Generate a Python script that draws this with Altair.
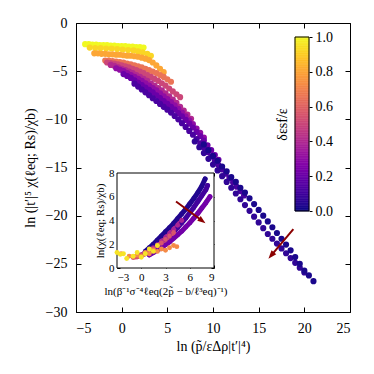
import altair as alt
import pandas as pd

# ---------------- data ----------------
main_delta = [1.0, 0.92, 0.8, 0.65, 0.5, 0.4, 0.3, 0.2, 0.12, 0.06, 0.02]
main_x = [
    [-4.0, -3.6, -3.2, -2.8, -2.4, -2.0, -1.6, -1.2, -0.8, -0.4, 0.0, 0.4, 0.8, 1.2, 1.6, 2.0, 2.4],
    [-3.5, -2.9, -2.3, -1.7, -1.1, -0.5, 0.1, 0.7, 1.3, 1.8, 2.3, 2.8, 3.2],
    [-3.0, -2.6, -2.2, -1.8, -1.4, -1.0, -0.6, -0.2, 0.2, 0.6, 1.0, 1.4, 1.8, 2.2, 2.6, 3.0, 3.4, 3.8, 4.2, 4.6],
    [-1.8, -1.4, -1.0, -0.6, -0.2, 0.2, 0.6, 1.0, 1.4, 1.8, 2.2, 2.6, 3.0, 3.4, 3.8, 4.2, 4.6, 5.0, 5.4],
    [-1.6, -1.2, -0.8, -0.4, 0.0, 0.4, 0.8, 1.2, 1.6, 2.0, 2.4, 2.8, 3.2, 3.6, 4.0, 4.4, 4.8, 5.2, 5.6, 6.0, 6.4],
    [-1.2, -0.8, -0.4, 0.0, 0.4, 0.8, 1.2, 1.6, 2.0, 2.4, 2.8, 3.2, 3.6, 4.0, 4.4, 4.8, 5.2, 5.6, 6.0, 6.4, 6.8, 7.2, 7.6],
    [-0.6, -0.2, 0.2, 0.6, 1.0, 1.4, 1.8, 2.2, 2.6, 3.0, 3.4, 3.8, 4.2, 4.6, 5.0, 5.4, 5.8, 6.2, 6.6, 7.0, 7.4, 7.8, 8.2, 8.6, 9.0],
    [0.2, 0.6, 1.0, 1.4, 1.8, 2.2, 2.6, 3.0, 3.4, 3.8, 4.2, 4.6, 5.0, 5.4, 5.8, 6.2, 6.6, 7.0, 7.4, 7.8, 8.2, 8.6, 9.0, 9.4, 9.8, 10.2, 10.6],
    [1.4, 1.8, 2.2, 2.6, 3.0, 3.4, 3.8, 4.2, 4.6, 5.0, 5.4, 5.8, 6.2, 6.6, 7.0, 7.4, 7.8, 8.2, 8.6, 9.0, 9.4, 9.8, 10.2, 10.6, 11.0, 11.4, 11.8, 12.2, 12.6, 13.0, 13.4],
    [8.0, 8.5, 9.0, 9.5, 10.0, 10.5, 11.0, 11.5, 12.0, 12.5, 13.0, 13.5, 14.0, 14.5, 15.0, 15.5, 16.0, 16.5, 17.0, 17.5, 18.0, 18.5, 19.0, 19.5, 20.0],
    [9.0, 9.5, 10.0, 10.5, 11.0, 11.5, 12.0, 12.5, 13.0, 13.5, 14.0, 14.5, 15.0, 15.5, 16.0, 16.5, 17.0, 17.5, 18.0, 18.5, 19.0, 19.5, 20.0, 20.5, 21.0],
]
main_y = [
    [-2.2, -2.2, -2.25, -2.25, -2.3, -2.3, -2.3, -2.35, -2.35, -2.4, -2.4, -2.4, -2.45, -2.45, -2.5, -2.5, -2.55],
    [-2.55, -2.6, -2.6, -2.65, -2.65, -2.7, -2.75, -2.8, -2.85, -2.95, -3.05, -3.2, -3.4],
    [-3.15, -3.15, -3.2, -3.2, -3.25, -3.25, -3.3, -3.3, -3.35, -3.4, -3.4, -3.45, -3.5, -3.6, -3.7, -3.85, -4.1, -4.4, -4.75, -5.1],
    [-3.9, -3.9, -3.95, -4.0, -4.05, -4.1, -4.2, -4.3, -4.4, -4.5, -4.6, -4.75, -4.9, -5.05, -5.2, -5.4, -5.6, -5.85, -6.1],
    [-4.1, -4.15, -4.2, -4.3, -4.4, -4.5, -4.6, -4.75, -4.9, -5.05, -5.2, -5.4, -5.6, -5.8, -6.0, -6.25, -6.5, -6.8, -7.1, -7.4, -7.7],
    [-4.35, -4.45, -4.6, -4.75, -4.9, -5.05, -5.2, -5.4, -5.6, -5.8, -6.0, -6.25, -6.5, -6.75, -7.0, -7.3, -7.6, -7.95, -8.3, -8.7, -9.1, -9.5, -9.95],
    [-4.7, -4.85, -5.0, -5.2, -5.4, -5.6, -5.8, -6.0, -6.25, -6.5, -6.75, -7.0, -7.3, -7.6, -7.9, -8.2, -8.55, -8.9, -9.3, -9.7, -10.1, -10.5, -10.95, -11.4, -11.9],
    [-5.3, -5.5, -5.7, -5.95, -6.2, -6.45, -6.7, -6.95, -7.2, -7.5, -7.8, -8.1, -8.4, -8.7, -9.0, -9.35, -9.7, -10.05, -10.45, -10.85, -11.3, -11.75, -12.2, -12.7, -13.2, -13.7, -14.2],
    [-6.3, -6.6, -6.9, -7.2, -7.5, -7.8, -8.1, -8.4, -8.7, -9.0, -9.3, -9.65, -10.0, -10.4, -10.8, -11.2, -11.6, -12.05, -12.5, -12.95, -13.4, -13.85, -14.3, -14.75, -15.2, -15.65, -16.1, -16.55, -17.0, -17.45, -17.9],
    [-12.3, -12.9, -13.5, -14.1, -14.7, -15.3, -15.9, -16.5, -17.1, -17.7, -18.3, -18.9, -19.5, -20.1, -20.7, -21.3, -21.9, -22.4, -22.9, -23.4, -23.9, -24.4, -24.9, -25.4, -25.9],
    [-12.6, -13.2, -13.8, -14.3, -14.9, -15.4, -16.0, -16.5, -17.1, -17.6, -18.2, -18.8, -19.4, -20.0, -20.6, -21.2, -21.8, -22.4, -23.0, -23.6, -24.3, -25.0, -25.7, -26.2, -26.8],
]

inset_delta = [0.03, 0.1, 0.22, 0.38, 0.55, 0.72, 0.95]
inset_is_line = [True, True, True, True, True, False, False]
inset_x = [
    [0.5, 1.0, 1.5, 2.0, 2.5, 3.0, 3.5, 4.0, 4.5, 5.0, 5.5, 6.0, 6.5, 7.0, 7.5, 7.9],
    [1.0, 1.5, 2.0, 2.5, 3.0, 3.5, 4.0, 4.5, 5.0, 5.5, 6.0, 6.5, 7.0, 7.5, 8.0, 8.2],
    [1.0, 1.5, 2.0, 2.5, 3.0, 3.5, 4.0, 4.5, 5.0, 5.5, 6.0, 6.5, 7.0, 7.5, 8.0, 8.5],
    [-0.5, 0.0, 0.5, 1.0, 1.5, 2.0, 2.5, 3.0, 3.5, 4.0, 4.5, 5.0],
    [-1.0, -0.5, 0.0, 0.5, 1.0, 1.5, 2.0, 2.5, 3.0, 3.5, 4.0],
    [-2.5, -1.5, -1.0, -0.5, 0.0, 0.5, 1.0, 1.5, 2.0, 2.5, 3.0, 3.5, 4.0, 4.4],
    [-3.0, -2.6, -2.2, -1.8, -1.0, -0.5, 0.0, 0.5, 1.0, 1.5, 2.0],
]
inset_y = [
    [1.4, 1.7, 2.0, 2.35, 2.7, 3.05, 3.4, 3.75, 4.15, 4.55, 4.95, 5.4, 5.85, 6.35, 6.9, 7.5],
    [1.3, 1.55, 1.8, 2.1, 2.4, 2.7, 3.05, 3.4, 3.8, 4.2, 4.65, 5.1, 5.6, 6.1, 6.6, 6.95],
    [1.1, 1.3, 1.5, 1.7, 1.95, 2.2, 2.5, 2.8, 3.1, 3.45, 3.8, 4.2, 4.6, 5.05, 5.5, 6.0],
    [1.0, 1.1, 1.25, 1.45, 1.7, 1.95, 2.25, 2.55, 2.9, 3.25, 3.6, 4.0],
    [0.9, 0.95, 1.05, 1.2, 1.4, 1.6, 1.85, 2.1, 2.4, 2.7, 3.0],
    [1.2, 1.0, 0.95, 1.1, 1.0, 1.3, 1.2, 1.5, 1.4, 1.6, 1.5, 1.7, 1.9, 1.8],
    [1.3, 1.15, 1.2, 0.8, 1.0, 1.3, 0.9, 1.2, 1.6, 1.4, 1.9],
]

main_arrow = {"x": [18.8], "y": [-21.4], "x2": [16.4], "y2": [-24.1]}
inset_arrow = {"x": [4.3], "y": [5.6], "x2": [7.5], "y2": [4.0]}

main_xticks = [-5, 0, 5, 10, 15, 20, 25]
main_yticks = [-30, -25, -20, -15, -10, -5, 0]
inset_xticks = [-3, 0, 3, 6, 9]
inset_yticks = [0, 2, 4, 6, 8]
cbar_ticks = [0.0, 0.2, 0.4, 0.6, 0.8, 1.0]
cbar_steps = 100

# ---------------- tables ----------------
rows = []
for k, (d, xs, ys) in enumerate(zip(main_delta, main_x, main_y)):
    for x, y in zip(xs, ys):
        rows.append({"s": k, "d": d, "x": x, "y": y})
main_df = pd.DataFrame(rows)

rows = []
for k, (d, ln, xs, ys) in enumerate(zip(inset_delta, inset_is_line, inset_x, inset_y)):
    for x, y in zip(xs, ys):
        rows.append({"s": k, "d": d, "line": ln, "x": x, "y": y})
inset_df = pd.DataFrame(rows)
inset_line_df = inset_df[inset_df["line"]]

cb_df = pd.DataFrame({
    "a": [0] * cbar_steps, "b": [1] * cbar_steps,
    "v": [i / cbar_steps for i in range(cbar_steps)],
    "v2": [(i + 1) / cbar_steps for i in range(cbar_steps)],
})
cb_frame_df = pd.DataFrame({"a": [0], "b": [1], "v": [0.0], "v2": [1.0]})

W, H = 274, 289
IX0, IX1, IY0, IY1 = 41, 138, 245, 150     # inset placement inside the plot (pixels)
CX0, CX1, CY0, CY1 = 219, 233, 188, 14     # colour bar placement inside the plot (pixels)
FONT = "Liberation Serif"
RED = "#8b0000"
HEAD = "M0,-1L0.65,0.8L-0.65,0.8Z"

xs_main = alt.Scale(domain=[-5, 25], nice=False, zero=False)
ys_main = alt.Scale(domain=[-30, 0], nice=False, zero=False)
xs_in = alt.Scale(domain=[-3, 9], range=[IX0, IX1], nice=False, zero=False)
ys_in = alt.Scale(domain=[0, 8], range=[IY0, IY1], nice=False, zero=False)
xs_cb = alt.Scale(domain=[0, 1], range=[CX0, CX1], nice=False, zero=False)
ys_cb = alt.Scale(domain=[0, 1], range=[CY0, CY1], nice=False, zero=False)
cscale = alt.Scale(scheme="plasma", domain=[0, 1])

ax_main_x = alt.Axis(orient="bottom", values=main_xticks, ticks=False, domain=False,
                     labelPadding=9, labelFontSize=14, titleFontSize=14, titlePadding=4,
                     title="ln (p̃/εΔρ|t′|⁴)")
ax_main_y = alt.Axis(orient="left", values=main_yticks, ticks=False, domain=False,
                     labelPadding=9, labelFontSize=14, titleFontSize=14, titlePadding=8,
                     title="ln (|t′|⁵ χ(ℓeq; Rs)/χb)")

main_pts = alt.Chart(main_df).mark_circle(size=38, opacity=1).encode(
    x=alt.X("x:Q", scale=xs_main, axis=ax_main_x),
    y=alt.Y("y:Q", scale=ys_main, axis=ax_main_y),
    color=alt.Color("d:Q", scale=cscale, legend=None),
)
main_rule = alt.Chart(pd.DataFrame(main_arrow)).mark_rule(color=RED, strokeWidth=2).encode(
    x=alt.X("x:Q", scale=xs_main, axis=ax_main_x), y=alt.Y("y:Q", scale=ys_main, axis=ax_main_y),
    x2="x2:Q", y2="y2:Q")
main_head = alt.Chart(pd.DataFrame(main_arrow)).mark_point(
    shape=HEAD, filled=True, size=90, angle=220, color=RED, opacity=1).encode(
    x=alt.X("x2:Q", scale=xs_main, axis=ax_main_x), y=alt.Y("y2:Q", scale=ys_main, axis=ax_main_y))
main_group = alt.layer(main_pts, main_rule, main_head)


def tick_layer(df, xsc, ysc, xvals, yvals, xorient, xoff, yorient, yoff, size):
    return alt.Chart(df).mark_point(opacity=0).encode(
        x=alt.X("x:Q", scale=xsc, axis=alt.Axis(orient=xorient, offset=xoff, values=xvals,
                                                labels=False, domain=False, tickSize=size,
                                                tickColor="black", title="")),
        y=alt.Y("y:Q", scale=ysc, axis=alt.Axis(orient=yorient, offset=yoff, values=yvals,
                                                labels=False, domain=False, tickSize=size,
                                                tickColor="black", title="")),
    )


tick_a = tick_layer(main_df, xs_main, ys_main, main_xticks, main_yticks, "top", -H, "right", -W, 5)
tick_b = tick_layer(main_df, xs_main, ys_main, main_xticks, main_yticks, "bottom", -H, "left", -W, 5)

ax_in_x = alt.Axis(orient="bottom", offset=-(H - IY0), values=inset_xticks, ticks=False,
                   domain=False, labelPadding=3, labelFontSize=11, titleFontSize=11,
                   titlePadding=3, labelOverlap=False, title="ln(β⁻¹σ⁻⁴ℓeq(2p̃ − b/ℓ³eq)⁻¹)")
ax_in_y = alt.Axis(orient="left", offset=-IX0, values=inset_yticks, ticks=False,
                   domain=False, labelPadding=3, labelFontSize=11, titleFontSize=11,
                   titlePadding=3, labelOverlap=False, title="ln(χ(ℓeq; Rs)/χb)")

box = alt.Chart(pd.DataFrame({"x": [-3], "x2": [9], "y": [0], "y2": [8]})).mark_rect(
    fill="white", stroke="black", strokeWidth=1).encode(
    x=alt.X("x:Q", scale=xs_in, axis=ax_in_x), x2="x2:Q",
    y=alt.Y("y:Q", scale=ys_in, axis=ax_in_y), y2="y2:Q")
in_lines = alt.Chart(inset_line_df).mark_trail(opacity=1).encode(
    x=alt.X("x:Q", scale=xs_in, axis=ax_in_x),
    y=alt.Y("y:Q", scale=ys_in, axis=ax_in_y),
    color=alt.Color("d:Q", scale=cscale, legend=None),
    size=alt.value(5),
    detail="s:N")
in_pts = alt.Chart(inset_df).mark_circle(size=24, opacity=1).encode(
    x=alt.X("x:Q", scale=xs_in, axis=ax_in_x),
    y=alt.Y("y:Q", scale=ys_in, axis=ax_in_y),
    color=alt.Color("d:Q", scale=cscale, legend=None))
in_rule = alt.Chart(pd.DataFrame(inset_arrow)).mark_rule(color=RED, strokeWidth=2).encode(
    x=alt.X("x:Q", scale=xs_in, axis=ax_in_x), y=alt.Y("y:Q", scale=ys_in, axis=ax_in_y),
    x2="x2:Q", y2="y2:Q")
in_head = alt.Chart(pd.DataFrame(inset_arrow)).mark_point(
    shape=HEAD, filled=True, size=80, angle=126, color=RED, opacity=1).encode(
    x=alt.X("x2:Q", scale=xs_in, axis=ax_in_x), y=alt.Y("y2:Q", scale=ys_in, axis=ax_in_y))
inset_group = alt.layer(box, in_lines, in_pts, in_rule, in_head)

tick_c = tick_layer(inset_df, xs_in, ys_in, inset_xticks, inset_yticks, "top", -IY0, "right", -(W - IX0), 3)
tick_d = tick_layer(inset_df, xs_in, ys_in, inset_xticks, inset_yticks, "bottom", -(H - IY1), "left", -IX1, 3)

# ---- colour bar drawn from the colour scale itself ----
ax_cb = alt.Axis(orient="right", offset=-(W - CX1), values=cbar_ticks, format=".1f",
                 tickSize=3, tickColor="black", domain=False, labelFontSize=14,
                 labelPadding=3, title="")
cb_rect = alt.Chart(cb_df).mark_rect(strokeWidth=0.6).encode(
    x=alt.X("a:Q", scale=xs_cb, axis=None), x2="b:Q",
    y=alt.Y("v:Q", scale=ys_cb, axis=ax_cb), y2="v2:Q",
    color=alt.Color("v:Q", scale=cscale, legend=None),
    stroke=alt.Stroke("v:Q", scale=alt.Scale(scheme="plasma", domain=[0, 1]), legend=None))
cb_frame = alt.Chart(cb_frame_df).mark_rect(fillOpacity=0, stroke="black", strokeWidth=1).encode(
    x=alt.X("a:Q", scale=xs_cb, axis=None), x2="b:Q",
    y=alt.Y("v:Q", scale=ys_cb, axis=ax_cb), y2="v2:Q")
cb_group = alt.layer(cb_rect, cb_frame)
cb_title = alt.Chart(cb_frame_df).mark_point(opacity=0).encode(
    x=alt.X("a:Q", scale=xs_cb, axis=None),
    y=alt.Y("v:Q", scale=ys_cb, axis=alt.Axis(orient="left", offset=-CX0, labels=False,
                                              ticks=False, domain=False, title="δεsf/ε",
                                              titleFontSize=14, titlePadding=6)))

chart = alt.layer(main_group, tick_a, tick_b, inset_group, tick_c, tick_d,
                  cb_group, cb_title).resolve_scale(
    x="independent", y="independent"
).properties(
    width=W, height=H,
    autosize=alt.AutoSizeParams(type="none"),
    padding={"left": 68, "top": 15, "right": 16, "bottom": 54},
).configure_view(stroke="black", strokeWidth=1).configure_axis(
    labelFont=FONT, titleFont=FONT, titleFontWeight="normal", grid=False,
    labelColor="black", titleColor="black",
)

chart.save("out.html", embed_options={"renderer": "svg", "actions": False})
